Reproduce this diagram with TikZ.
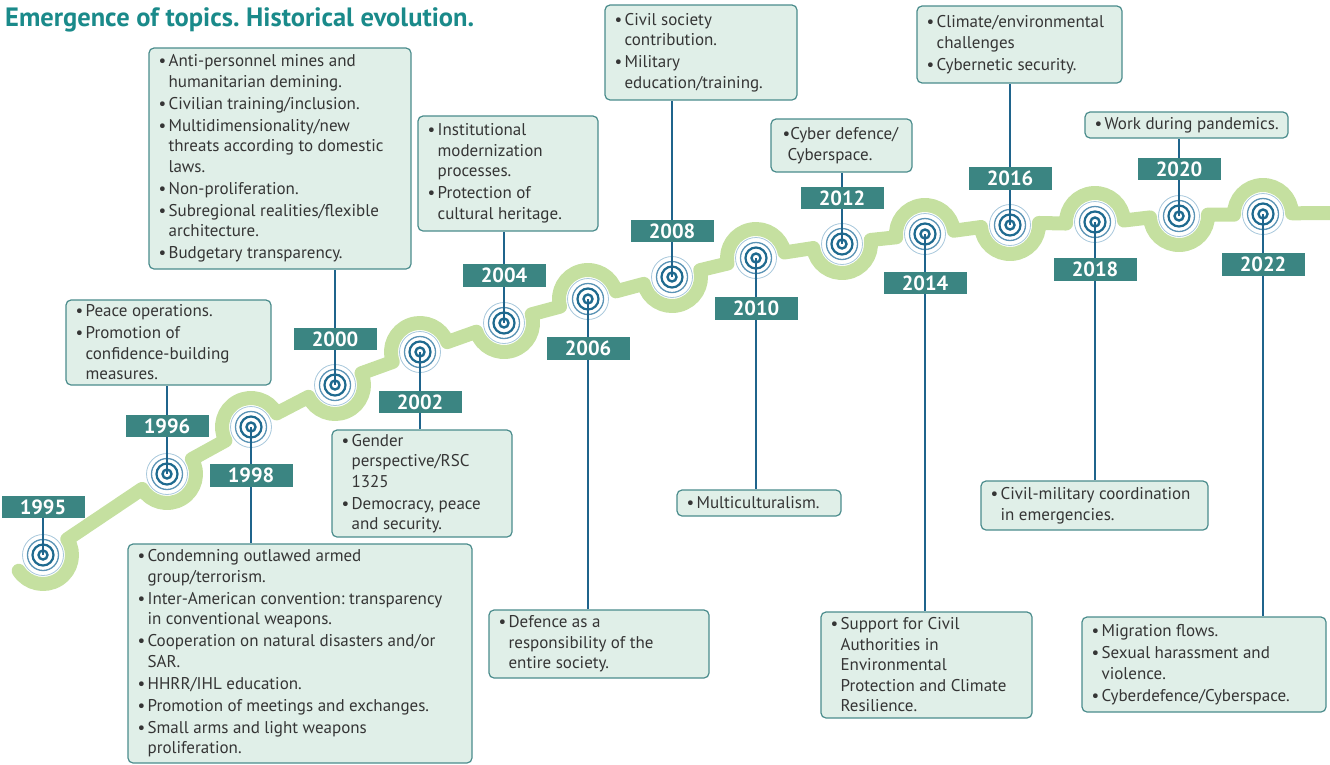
\documentclass[tikz,border=0pt]{standalone}
\usepackage{fontspec}
\setmainfont{PT Sans}
\usetikzlibrary{calc}
\frenchspacing
\definecolor{tealbox}{HTML}{3B8582}
\definecolor{titleteal}{HTML}{1A8A8A}
\definecolor{boxfill}{HTML}{E0EFE8}
\definecolor{boxborder}{HTML}{4A8C8C}
\definecolor{connblue}{HTML}{1F648C}
\definecolor{trackgreen}{HTML}{C5E0A0}
\definecolor{ringdark}{HTML}{1E6A8F}
\definecolor{ringmid}{HTML}{5A93B5}
\definecolor{ringlight}{HTML}{A8C8DC}
\definecolor{textgray}{HTML}{353535}
\newcommand\tlBul{\makebox[10pt][l]{\textbullet}}
\newcommand\tlCnt{\hspace*{10pt}}
\begin{document}
\begin{tikzpicture}[x=1pt,y=1pt,
  track/.style={draw=trackgreen,line width=14pt,line cap=round,line join=round},
  conn/.style={draw=connblue,line width=2.2pt},
  yr/.style={fill=tealbox,text=white,font=\bfseries\fontsize{20.5}{20.5}\selectfont,minimum width=83pt,minimum height=22.5pt,inner sep=0},
  box/.style={draw=boxborder,fill=boxfill,rounded corners=5pt,line width=1.2pt,inner sep=0},
  txt/.style={anchor=west,align=left,inner sep=0,text=textgray,font=\fontsize{17}{20.5}\selectfont},
  tgt/.pic={
    \fill[white] (0,0) circle (21pt);
    \draw[ringlight,line width=0.8pt] (0,0) circle (20.5pt);
    \draw[ringmid,line width=1.3pt] (0,0) circle (15.5pt);
    \draw[ringdark,line width=2.2pt] (0,0) circle (10.5pt);
    \draw[ringdark,line width=2.4pt] (0,0) circle (4.5pt);
  }]
\useasboundingbox (0,0) rectangle (1330,-764);

% title
\node[anchor=west,text=titleteal,font=\bfseries\fontsize{26.5}{26.5}\selectfont,inner sep=0] (title) at (5,-20) {Emergence of topics. Historical evolution.};

% marker positions
\coordinate (m95) at (43,-555);
\coordinate (m96) at (167,-474);
\coordinate (m98) at (251,-427);
\coordinate (m00) at (335,-385);
\coordinate (m02) at (420,-352);
\coordinate (m04) at (504,-323);
\coordinate (m06) at (588,-299);
\coordinate (m08) at (672,-277);
\coordinate (m10) at (756,-258);
\coordinate (m12) at (842,-244);
\coordinate (m14) at (925,-234);
\coordinate (m16) at (1010,-225);
\coordinate (m18) at (1095,-222);
\coordinate (m20) at (1179,-216);
\coordinate (m22) at (1263,-214);

% wavy track: semicircles aligned with the local trend, joined by straight pieces
\path[track]
    ($(m95)+(213:29pt)$) arc[start angle=213,end angle=393,radius=29pt]
 -- ($(m96)+(211:29pt)$) arc[start angle=211,end angle=391,radius=29pt]
 -- ($(m98)+(208:29pt)$) arc[start angle=208,end angle=28,radius=29pt]
 -- ($(m00)+(204:29pt)$) arc[start angle=204,end angle=384,radius=29pt]
 -- ($(m02)+(200:29pt)$) arc[start angle=200,end angle=20,radius=29pt]
 -- ($(m04)+(197.5:29pt)$) arc[start angle=197.5,end angle=377.5,radius=29pt]
 -- ($(m06)+(195.3:29pt)$) arc[start angle=195.3,end angle=15.3,radius=29pt]
 -- ($(m08)+(193.7:29pt)$) arc[start angle=193.7,end angle=373.7,radius=29pt]
 -- ($(m10)+(191:29pt)$) arc[start angle=191,end angle=11,radius=29pt]
 -- ($(m12)+(188:29pt)$) arc[start angle=188,end angle=368,radius=29pt]
 -- ($(m14)+(186.5:29pt)$) arc[start angle=186.5,end angle=6.5,radius=29pt]
 -- ($(m16)+(184:29pt)$) arc[start angle=184,end angle=364,radius=29pt]
 -- ($(m18)+(183:29pt)$) arc[start angle=183,end angle=3,radius=29pt]
 -- ($(m20)+(182.8:29pt)$) arc[start angle=182.8,end angle=362.8,radius=29pt]
 -- ($(m22)+(181.4:29pt)$) arc[start angle=181.4,end angle=1.4,radius=29pt]
 -- (1345,-213);

% targets
\foreach \m in {m95,m96,m98,m00,m02,m04,m06,m08,m10,m12,m14,m16,m18,m20,m22}
  \pic at (\m) {tgt};

% boxes (upper)
\node[box,minimum width=205pt,minimum height=85pt] (b96) at (168.5,-342.5) {};
\node[box,minimum width=262pt,minimum height=221pt] (b00) at (280,-158.5) {};
\node[box,minimum width=180pt,minimum height=115pt] (b04) at (508,-173.5) {};
\node[box,minimum width=192pt,minimum height=95pt] (b08) at (701,-52.5) {};
\node[box,minimum width=141pt,minimum height=53pt] (b12) at (841.5,-145.5) {};
\node[box,minimum width=205pt,minimum height=77pt] (b16) at (1019.5,-44.5) {};
\node[box,minimum width=203pt,minimum height=26pt] (b20) at (1186.5,-125) {};
% boxes (lower)
\node[box,minimum width=344pt,minimum height=219pt] (b98) at (300,-653.5) {};
\node[box,minimum width=180pt,minimum height=107pt] (b02) at (422,-483.5) {};
\node[box,minimum width=220pt,minimum height=68pt] (b06) at (599,-644) {};
\node[box,minimum width=164pt,minimum height=26pt] (b10) at (759,-503) {};
\node[box,minimum width=211pt,minimum height=106pt] (b14) at (926.5,-665) {};
\node[box,minimum width=227pt,minimum height=49pt] (b18) at (1094.5,-505.5) {};
\node[box,minimum width=244pt,minimum height=95pt] (b22) at (1204,-664.5) {};

% connectors
\foreach \m/\b in {m96/b96,m00/b00,m04/b04,m08/b08,m12/b12,m16/b16,m20/b20}
  \draw[conn] (\m) -- (\m |- \b.south);
\foreach \m/\b in {m98/b98,m02/b02,m06/b06,m10/b10,m14/b14,m18/b18,m22/b22}
  \draw[conn] (\m) -- (\m |- \b.north);
\draw[conn] (m95) -- ($(m95)+(0,48)$);

% year labels
\node[yr] (y95) at (m95 |- 0,-507) {1995};
\node[yr] (y96) at (m96 |- 0,-426) {1996};
\node[yr] (y98) at (m98 |- 0,-475.5) {1998};
\node[yr] (y00) at (m00 |- 0,-339) {2000};
\node[yr] (y02) at (m02 |- 0,-402) {2002};
\node[yr] (y04) at (m04 |- 0,-275.5) {2004};
\node[yr] (y06) at (m06 |- 0,-348.5) {2006};
\node[yr] (y08) at (m08 |- 0,-231) {2008};
\node[yr] (y10) at (m10 |- 0,-308.5) {2010};
\node[yr] (y12) at (m12 |- 0,-198) {2012};
\node[yr] (y14) at (m14 |- 0,-283) {2014};
\node[yr] (y16) at (m16 |- 0,-178.5) {2016};
\node[yr] (y18) at (m18 |- 0,-269.5) {2018};
\node[yr] (y20) at (m20 |- 0,-169) {2020};
\node[yr] (y22) at (m22 |- 0,-264.5) {2022};

% texts
\node[txt] (t96) at ($(b96.west)+(10,0)$) {\tlBul Peace operations.\\[1.5pt]
\tlBul Promotion of\\ \tlCnt confidence-building\\ \tlCnt measures.};
\node[txt] (t00) at ($(b00.west)+(10,0)$) {\tlBul Anti-personnel mines and\\ \tlCnt humanitarian demining.\\[1.5pt]
\tlBul Civilian training/inclusion.\\[1.5pt]
\tlBul Multidimensionality/new\\ \tlCnt threats according to domestic\\ \tlCnt laws.\\[1.5pt]
\tlBul Non-proliferation.\\[1.5pt]
\tlBul Subregional realities/flexible\\ \tlCnt architecture.\\[1.5pt]
\tlBul Budgetary transparency.};
\node[txt] (t04) at ($(b04.west)+(10,0)$) {\tlBul Institutional\\ \tlCnt modernization\\ \tlCnt processes.\\[1.5pt]
\tlBul Protection of\\ \tlCnt cultural heritage.};
\node[txt] (t08) at ($(b08.west)+(10,0)$) {\tlBul Civil society\\ \tlCnt contribution.\\[1.5pt]
\tlBul Military\\ \tlCnt education/training.};
\node[txt] (t12) at ($(b12.west)+(12,0)$) {\textbullet Cyber defence/\\ \hspace*{5pt}Cyberspace.};
\node[txt] (t16) at ($(b16.west)+(10,0)$) {\tlBul Climate/environmental\\ \tlCnt challenges\\[1.5pt]
\tlBul Cybernetic security.};
\node[txt] (t20) at ($(b20.west)+(10,0)$) {\tlBul Work during pandemics.};
\node[txt] (t98) at ($(b98.west)+(10,0)$) {\tlBul Condemning outlawed armed\\ \tlCnt group/terrorism.\\[1.5pt]
\tlBul Inter-American convention: transparency\\ \tlCnt in conventional weapons.\\[1.5pt]
\tlBul Cooperation on natural disasters and/or\\ \tlCnt SAR.\\[1.5pt]
\tlBul HHRR/IHL education.\\[1.5pt]
\tlBul Promotion of meetings and exchanges.\\[1.5pt]
\tlBul Small arms and light weapons\\ \tlCnt proliferation.};
\node[txt] (t02) at ($(b02.west)+(10,0)$) {\tlBul Gender\\ \tlCnt perspective/RSC\\ \tlCnt 1325\\[1.5pt]
\tlBul Democracy, peace\\ \tlCnt and security.};
\node[txt] (t06) at ($(b06.west)+(10,0)$) {\tlBul Defence as a\\ \tlCnt responsibility of the\\ \tlCnt entire society.};
\node[txt] (t10) at ($(b10.west)+(10,0)$) {\tlBul Multiculturalism.};
\node[txt] (t14) at ($(b14.west)+(10,0)$) {\tlBul Support for Civil\\ \tlCnt Authorities in\\ \tlCnt Environmental\\ \tlCnt Protection and Climate\\ \tlCnt Resilience.};
\node[txt] (t18) at ($(b18.west)+(10,0)$) {\tlBul Civil-military coordination\\ \tlCnt in emergencies.};
\node[txt] (t22) at ($(b22.west)+(10,0)$) {\tlBul Migration flows.\\[1.5pt]
\tlBul Sexual harassment and\\ \tlCnt violence.\\[1.5pt]
\tlBul Cyberdefence/Cyberspace.};
\end{tikzpicture}
\end{document}
